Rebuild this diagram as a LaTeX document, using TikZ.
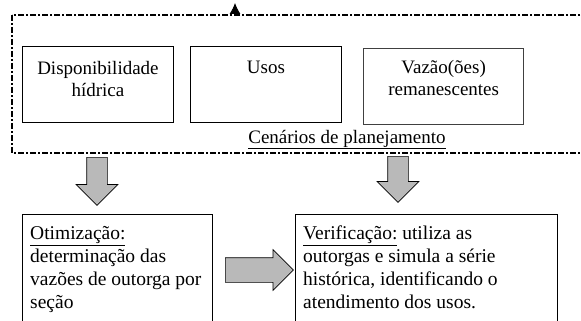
\documentclass[tikz,border=0pt]{standalone}
\usepackage{fontspec}
\setmainfont{Liberation Serif}
\usetikzlibrary{arrows.meta}
\usetikzlibrary{shapes.arrows}
\tikzset{>=latex}
\tikzset{
    box/.style={draw, line width=0.9pt, inner sep=0pt, anchor=north west},
    txt/.style={font=\fontsize{19}{22}\selectfont, inner sep=0pt},
    fatarrow/.style={single arrow, draw, line width=0.7pt, fill=gray!55,
        inner xsep=0pt, inner ysep=10pt, single arrow head extend=10.5pt}
}

\begin{document}
\begin{tikzpicture}[x=1pt, y=-1pt]
    \useasboundingbox (0,0) rectangle (581,321);
    \clip (0,0) rectangle (581,321);
    \draw[line width=1.1pt, dash pattern=on 6pt off 2pt on 2pt off 2pt]
        (12,15) rectangle (600,153);
    \coordinate (up) at (235,15);
    \draw[-{Latex[length=11pt, width=11pt]}, line width=0.8pt] (up)--++(0,-12);
    \node[box, minimum width=151pt, minimum height=76pt] (disp) at (22,46) {};
    \node[box, minimum width=151pt, minimum height=76pt] (usos) at (190,46) {};
    \node[box, draw=black!75, line width=1.3pt, minimum width=160pt, minimum height=76pt] (vaz) at (363,48) {};
    \node[txt, align=center, anchor=north] (dispt) at ([yshift=-15pt]disp.north) {Disponibilidade\\hídrica};
    \node[txt, align=center, anchor=north] (usost) at ([yshift=-15pt]usos.north) {Usos};
    \node[txt, align=center, anchor=north] (vazt) at ([yshift=-12pt]vaz.north) {Vazão(ões)\\remanescentes};
    \node[txt, anchor=base] (cen) at (347,143) {\underline{Cenários de planejamento}};
    \node[fatarrow, rotate=-90, minimum height=48pt, anchor=west] (a1) at (97,157) {};
    \node[fatarrow, rotate=-90, minimum height=46pt, anchor=west] (a2) at (398,156) {};
    \node[box, minimum width=190pt, minimum height=120pt] (otim) at (22,214) {};
    \node[box, minimum width=262pt, minimum height=120pt] (verif) at (295,214) {};
    \node[fatarrow, minimum height=68pt, anchor=west, inner ysep=12pt, single arrow head extend=8pt] (a3) at (225,270) {};
    \node[txt, font=\fontsize{19.5}{23}\selectfont, align=left, anchor=north west] (otimt) at ([shift={(8,12)}]otim.north west)
        {\underline{Otimização:}\\determinação das\\vazões de outorga por\\seção};
    \node[txt, font=\fontsize{19.5}{23}\selectfont, align=left, anchor=north west] (verift) at ([shift={(8,12)}]verif.north west)
        {\underline{Verificação:} utiliza as\\outorgas e simula a série\\histórica, identificando o\\atendimento dos usos.};
\end{tikzpicture}
\end{document}
